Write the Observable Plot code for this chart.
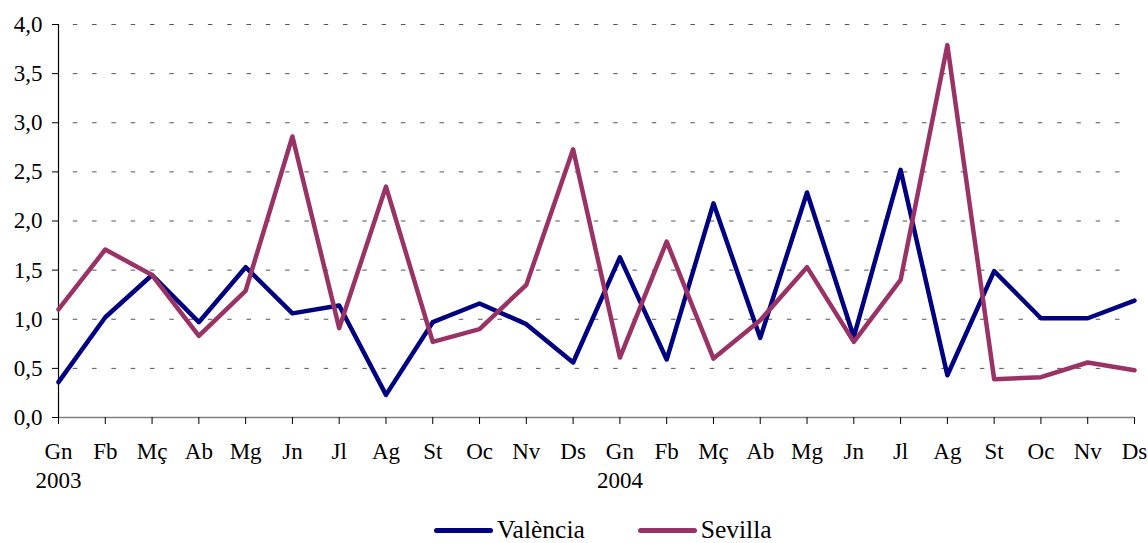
<!DOCTYPE html>
<html><head><meta charset="utf-8">
<script src="https://cdn.jsdelivr.net/npm/d3@7"></script>
<script src="https://cdn.jsdelivr.net/npm/@observablehq/plot@0.6"></script>
<style>
body{margin:0;background:#fff;font-family:"Liberation Serif","DejaVu Serif",serif;}
#wrap{position:relative;width:1148px;height:543px;overflow:hidden;}
#legend{position:absolute;top:514px;left:434px;font-size:25.5px;color:#000;display:flex;align-items:center;height:32px;white-space:nowrap;}
.sw{display:inline-block;width:59px;height:5px;border-radius:3px;margin-right:4px;}
.item{display:flex;align-items:center;}
</style></head><body>
<div id="wrap"><div id="chart"></div>
<div id="legend"></div></div>
<script>
const months = ["Gn","Fb","Mç","Ab","Mg","Jn","Jl","Ag","St","Oc","Nv","Ds",
                "Gn","Fb","Mç","Ab","Mg","Jn","Jl","Ag","St","Oc","Nv","Ds"];
const yearLabels = ["2003","2004"];
const yearStarts = [0,12];
const seriesNames = ["València","Sevilla"];
const seriesColors = ["#000080","#993366"];
const valencia = [0.36,1.02,1.45,0.97,1.53,1.06,1.14,0.23,0.97,1.16,0.95,0.56,
                  1.63,0.59,2.18,0.81,2.29,0.82,2.52,0.43,1.49,1.01,1.01,1.19];
const sevilla  = [1.10,1.71,1.45,0.83,1.29,2.86,0.91,2.35,0.77,0.90,1.35,2.73,
                  0.61,1.79,0.60,0.99,1.53,0.77,1.40,3.79,0.39,0.41,0.56,0.48];
const yTicks = [0,0.5,1,1.5,2,2.5,3,3.5,4];

const data = [];
months.forEach((m,i)=>data.push({i, v: valencia[i], s: seriesNames[0]}));
months.forEach((m,i)=>data.push({i, v: sevilla[i], s: seriesNames[1]}));

const chart = Plot.plot({
  width: 1148, height: 505,
  marginLeft: 58, marginRight: 14, marginTop: 24, marginBottom: 88,
  style: {fontFamily: "'Liberation Serif', 'DejaVu Serif', serif", fontSize: "23px", background: "white", color: "black", overflow: "visible"},
  x: {domain: [0, months.length - 1]},
  y: {domain: [0, 4]},
  color: {domain: seriesNames, range: seriesColors},
  marks: [
    Plot.ruleY(yTicks.filter(d => d > 0), {stroke: "#555", strokeWidth: 1, strokeDasharray: "4.5,14.8", strokeDashoffset: 4.5}),
    Plot.ruleY([0], {stroke: "#808080", strokeWidth: 1.5}),
    Plot.axisY({ticks: yTicks, tickFormat: d => d.toFixed(1).replace(".", ","), tickSize: 6, tickPadding: 10, label: null, fontSize: 23}),
    Plot.ruleX([0], {stroke: "black", strokeWidth: 1.2}),
    Plot.axisX({ticks: d3.range(months.length), tickFormat: i => months[i] + (yearStarts.includes(i) ? "\n" + yearLabels[yearStarts.indexOf(i)] : ""),
      tickSize: 7, tickPadding: 14, label: null, fontSize: 23, lineHeight: 1.26}),
    Plot.line(data, {x: "i", y: "v", z: "s", stroke: "s", strokeWidth: 4.5, strokeLinejoin: "round", strokeLinecap: "round"})
  ]
});
document.getElementById("chart").appendChild(chart);

const legend = document.getElementById("legend");
seriesNames.forEach((n, k) => {
  const it = document.createElement("div");
  it.className = "item";
  if (k > 0) it.style.marginLeft = "53px";
  const sw = document.createElement("span");
  sw.className = "sw"; sw.style.background = seriesColors[k];
  const t = document.createElement("span"); t.textContent = n;
  it.appendChild(sw); it.appendChild(t);
  legend.appendChild(it);
});
</script>
</body></html>
